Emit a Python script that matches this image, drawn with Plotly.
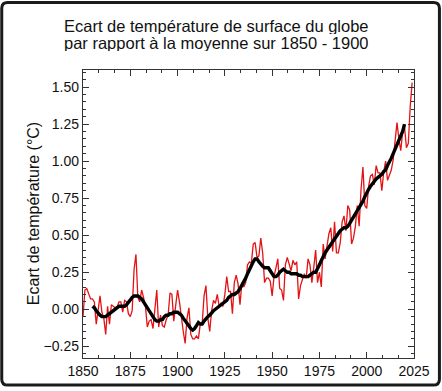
import plotly.graph_objects as go

# Annual anomaly (red), 1850-2024
years = list(range(1850, 2025))
annual = [
    -0.05, 0.13, 0.14, 0.10, 0.07, 0.07, 0.05, -0.10, -0.02, 0.09,
    -0.02, -0.06, -0.17, 0.02, -0.10, 0.03, 0.02, 0.01, 0.01, 0.05,
    0.05, -0.02, 0.06, 0.05, -0.03, -0.05, -0.01, 0.27, 0.37, 0.08,
    0.05, 0.13, 0.08, 0.02, -0.12, -0.08, -0.07, -0.13, 0.00, 0.13,
    -0.12, -0.04, -0.11, -0.12, -0.07, -0.04, 0.11, 0.10, -0.08, 0.04,
    0.13, 0.05, -0.07, -0.15, -0.23, -0.06, 0.01, -0.17, -0.20, -0.20,
    -0.18, -0.20, -0.10, -0.10, 0.09, 0.16, -0.06, -0.15, -0.01, 0.06,
    0.04, 0.10, 0.02, 0.04, 0.02, 0.10, 0.22, 0.12, 0.12, -0.03,
    0.18, 0.23, 0.17, 0.03, 0.18, 0.15, 0.18, 0.30, 0.32, 0.31,
    0.44, 0.45, 0.35, 0.36, 0.48, 0.38, 0.18, 0.21, 0.21, 0.19,
    0.09, 0.22, 0.28, 0.34, 0.14, 0.13, 0.06, 0.30, 0.35, 0.31,
    0.26, 0.33, 0.30, 0.32, 0.07, 0.16, 0.21, 0.24, 0.21, 0.34,
    0.30, 0.18, 0.28, 0.40, 0.18, 0.25, 0.15, 0.44, 0.34, 0.42,
    0.51, 0.55, 0.39, 0.59, 0.38, 0.38, 0.45, 0.59, 0.63, 0.53,
    0.70, 0.67, 0.44, 0.48, 0.56, 0.70, 0.56, 0.81, 0.96, 0.70,
    0.68, 0.83, 0.90, 0.91, 0.84, 0.97, 0.92, 0.92, 0.80, 0.93,
    1.00, 0.87, 0.90, 0.94, 1.01, 1.16, 1.26, 1.15, 1.07, 1.20,
    1.23, 1.09, 1.12, 1.37, 1.53,
]

# Smoothed anomaly (black), 1855-2020
smooth_years = list(range(1855, 2021))
smooth = [
    0.02, 0.01, -0.01, -0.03, -0.04, -0.05, -0.05, -0.05, -0.04, -0.03,
    -0.02, -0.01, 0.00, 0.01, 0.02, 0.02, 0.02, 0.02, 0.03, 0.05,
    0.07, 0.08, 0.09, 0.09, 0.09, 0.08, 0.07, 0.05, 0.03, 0.00,
    -0.02, -0.04, -0.06, -0.07, -0.08, -0.08, -0.07, -0.07, -0.05, -0.04,
    -0.04, -0.03, -0.03, -0.02, -0.02, -0.02, -0.03, -0.04, -0.06, -0.08,
    -0.10, -0.12, -0.13, -0.14, -0.13, -0.11, -0.09, -0.10, -0.10, -0.08,
    -0.06, -0.05, -0.04, -0.02, -0.01, 0.00, 0.01, 0.02, 0.03, 0.04,
    0.05, 0.06, 0.08, 0.09, 0.10, 0.10, 0.11, 0.12, 0.14, 0.16,
    0.18, 0.21, 0.24, 0.27, 0.30, 0.32, 0.34, 0.34, 0.32, 0.30,
    0.29, 0.28, 0.28, 0.28, 0.26, 0.24, 0.22, 0.22, 0.23, 0.25,
    0.26, 0.27, 0.26, 0.25, 0.25, 0.24, 0.24, 0.24, 0.24, 0.23,
    0.23, 0.22, 0.22, 0.22, 0.22, 0.23, 0.24, 0.25, 0.25, 0.27,
    0.30, 0.33, 0.36, 0.38, 0.40, 0.42, 0.44, 0.46, 0.48, 0.50,
    0.52, 0.53, 0.54, 0.55, 0.55, 0.56, 0.58, 0.60, 0.63, 0.65,
    0.67, 0.68, 0.70, 0.73, 0.76, 0.79, 0.81, 0.83, 0.85, 0.86,
    0.88, 0.89, 0.90, 0.91, 0.93, 0.94, 0.97, 0.99, 1.02, 1.05,
    1.08, 1.11, 1.14, 1.16, 1.20, 1.25,
]

x_ticks = [1850, 1875, 1900, 1925, 1950, 1975, 2000, 2025]
y_ticks = [-0.25, 0.00, 0.25, 0.50, 0.75, 1.00, 1.25, 1.50]

title_lines = ["Ecart de température de surface du globe",
               "par rapport à la moyenne sur 1850 - 1900"]
y_title = "Ecart de température (°C)"

W, H = 442, 391
ML, MR, MT, MB = 83, 27, 70, 29
PW, PH = W - ML - MR, H - MT - MB


def px(xp):
    return (xp - ML) / PW


def py(yp):
    return (H - MB - yp) / PH


FONT = "Liberation Sans, Arial, sans-serif"

fig = go.Figure()
fig.add_trace(go.Scatter(x=years, y=annual, mode="lines",
                         line=dict(color="rgb(228,18,20)", width=1.3),
                         showlegend=False, hoverinfo="skip"))
fig.add_trace(go.Scatter(x=smooth_years, y=smooth, mode="lines",
                         line=dict(color="black", width=3.4),
                         showlegend=False, hoverinfo="skip"))

axis_common = dict(
    showline=True, linecolor="#333", linewidth=1.3, mirror="ticks",
    ticks="inside", ticklen=6, tickwidth=1, tickcolor="#333",
    showgrid=False, zeroline=False,
    tickfont=dict(family=FONT, size=14, color="#111"),
)

fig.update_xaxes(range=[1850, 2025], tickvals=x_ticks,
                 ticktext=[str(v) for v in x_ticks],
                 minor=dict(tick0=1850, dtick=25 / 3, ticks="inside",
                            ticklen=3, tickcolor="#333", showgrid=False),
                 **axis_common)
fig.update_yaxes(range=[-0.329, 1.615], tickvals=y_ticks,
                 ticktext=[f"{v:.2f}".replace("-", "\u2212") for v in y_ticks],
                 minor=dict(tick0=0, dtick=0.05, ticks="inside",
                            ticklen=3, tickcolor="#333", showgrid=False),
                 **axis_common)

annotations = [
    dict(text=title_lines[0], x=px(217), y=py(25), xref="paper", yref="paper",
         xanchor="center", yanchor="middle", showarrow=False, height=17,
         font=dict(family=FONT, size=16.5, color="#111")),
    dict(text=title_lines[1], x=px(217), y=py(42), xref="paper", yref="paper",
         xanchor="center", yanchor="middle", showarrow=False, height=17,
         font=dict(family=FONT, size=16.5, color="#111")),
    dict(text=y_title, x=px(33), y=0.5, xref="paper", yref="paper",
         xanchor="center", yanchor="middle", textangle=-90, showarrow=False,
         font=dict(family=FONT, size=16, color="#111")),
]

# rounded outer frame around the whole picture
x0, x1, y0, y1, r = 1.5, 440.5, 1.5, 389.5, 6
path = (f"M {px(x0 + r)},{py(y0)} L {px(x1 - r)},{py(y0)} "
        f"Q {px(x1)},{py(y0)} {px(x1)},{py(y0 + r)} "
        f"L {px(x1)},{py(y1 - r)} Q {px(x1)},{py(y1)} {px(x1 - r)},{py(y1)} "
        f"L {px(x0 + r)},{py(y1)} Q {px(x0)},{py(y1)} {px(x0)},{py(y1 - r)} "
        f"L {px(x0)},{py(y0 + r)} Q {px(x0)},{py(y0)} {px(x0 + r)},{py(y0)} Z")

fig.update_layout(
    width=W, height=H, autosize=False,
    margin=dict(l=ML, r=MR, t=MT, b=MB, pad=0),
    paper_bgcolor="white", plot_bgcolor="white",
    annotations=annotations,
    shapes=[dict(type="path", path=path, xref="paper", yref="paper",
                 line=dict(color="#1a1a1a", width=3), layer="above")],
)

fig.write_html("out.html",
               config={"displayModeBar": False},
               post_script="document.body.style.margin='0';"
                           "document.body.style.overflow='hidden';")
